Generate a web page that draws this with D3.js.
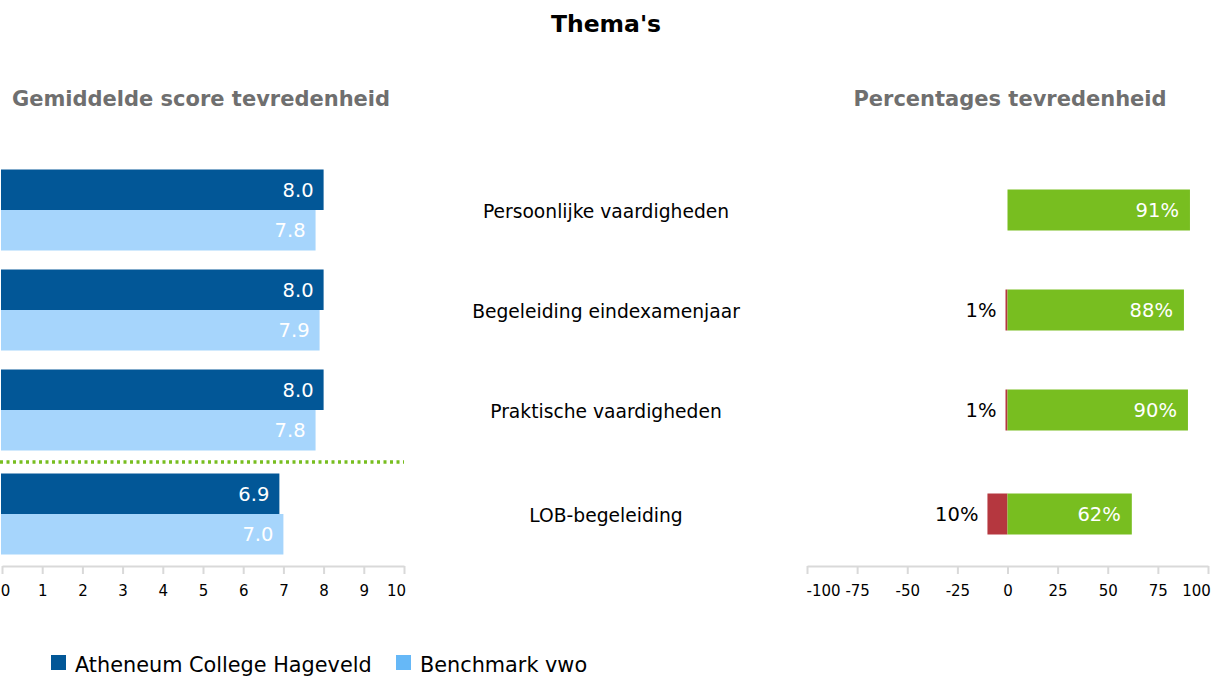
<!DOCTYPE html>
<html><head><meta charset="utf-8">
<script src="https://cdn.jsdelivr.net/npm/d3@7"></script>
<style>body{margin:0;background:#fff}svg{display:block;font-family:"DejaVu Sans",Verdana,sans-serif}</style>
</head><body><svg id="c" width="1218" height="676"></svg>
<script>
const categories = ["Persoonlijke vaardigheden","Begeleiding eindexamenjaar","Praktische vaardigheden","LOB-begeleiding"];
const schoolScores = [8.0, 8.0, 8.0, 6.9];
const benchmarkScores = [7.8, 7.9, 7.8, 7.0];
const pctNegative = [0, 1, 1, 10];
const pctPositive = [91, 88, 90, 62];
const scoreTicks = [0,1,2,3,4,5,6,7,8,9,10];
const pctTicks = [-100,-75,-50,-25,0,25,50,75,100];
const seriesNames = ["Atheneum College Hageveld","Benchmark vwo"];

const svg = d3.select("#c");

svg.append("text").attr("x",606).attr("y",32).attr("text-anchor","middle")
  .attr("font-weight","bold").attr("font-size",23.5).attr("fill","#000").text("Thema's");
svg.append("text").attr("x",201).attr("y",106).attr("text-anchor","middle")
  .attr("font-weight","bold").attr("font-size",21).attr("fill","#6f6f6f").text("Gemiddelde score tevredenheid");
svg.append("text").attr("x",1010).attr("y",106).attr("text-anchor","middle")
  .attr("font-weight","bold").attr("font-size",21).attr("fill","#6f6f6f").text("Percentages tevredenheid");

const yPos = d3.scalePoint().domain(categories).range([210,510]);
const center = (c,i) => yPos(c) + (i===3 ? 4 : 0);

// left chart
const xL = d3.scaleLinear().domain([0,10]).range([2,404]);
const gL = svg.append("g");
const barH = 40.5;
const lblF = 19.5;
gL.selectAll("rect.s").data(schoolScores).join("rect").attr("class","s")
  .attr("x",xL(0)-1).attr("y",(d,i)=>center(categories[i],i)-barH)
  .attr("width",d=>xL(d)-xL(0)+1).attr("height",barH).attr("fill","#025797");
gL.selectAll("rect.b").data(benchmarkScores).join("rect").attr("class","b")
  .attr("x",xL(0)-1).attr("y",(d,i)=>center(categories[i],i))
  .attr("width",d=>xL(d)-xL(0)+1).attr("height",barH).attr("fill","#a6d5fc");
gL.selectAll("text.s").data(schoolScores).join("text").attr("class","s")
  .attr("x",d=>xL(d)-10).attr("y",(d,i)=>center(categories[i],i)-barH/2+7)
  .attr("text-anchor","end").attr("font-size",lblF).attr("fill","#fff").text(d=>d.toFixed(1));
gL.selectAll("text.b").data(benchmarkScores).join("text").attr("class","b")
  .attr("x",d=>xL(d)-10).attr("y",(d,i)=>center(categories[i],i)+barH/2+7)
  .attr("text-anchor","end").attr("font-size",lblF).attr("fill","#fff").text(d=>d.toFixed(1));
// dotted separator
gL.append("line").attr("x1",0).attr("x2",xL(10)).attr("y1",462).attr("y2",462)
  .attr("stroke","#78be20").attr("stroke-width",3.5).attr("stroke-dasharray","3,3.5");

function styleAxis(ax){
  ax.select(".domain").attr("stroke","#d9d9d9").attr("stroke-width",2);
  ax.selectAll(".tick line").attr("stroke","#d9d9d9").attr("stroke-width",2);
  ax.selectAll(".tick text").attr("font-size",15).attr("fill","#000").attr("dy","1.25em")
    .attr("font-family","DejaVu Sans, sans-serif");
}
const axL = gL.append("g").attr("transform","translate(0,566)")
  .call(d3.axisBottom(xL).tickValues(scoreTicks).tickSize(8).tickSizeOuter(0).tickFormat(d=>String(d)));
styleAxis(axL);
axL.selectAll(".tick text").filter(d=>d===0).attr("dx",3);
axL.selectAll(".tick text").filter(d=>d===10).attr("dx",-8);

// middle labels
svg.selectAll("text.cat").data(categories).join("text").attr("class","cat")
  .attr("x",606).attr("y",(c,i)=>center(c,i)+8)
  .attr("text-anchor","middle").attr("font-size",18.7).attr("fill","#000").text(d=>d);

// right chart
const xR = d3.scaleLinear().domain([-100,100]).range([807,1208]);
const gR = svg.append("g");
const rH = 41;
gR.selectAll("rect.n").data(pctNegative).join("rect").attr("class","n")
  .attr("x",d=>xR(-d)).attr("y",(d,i)=>center(categories[i],i)-rH/2)
  .attr("width",d=>xR(0)-xR(-d)).attr("height",rH).attr("fill","#b5373f");
gR.selectAll("rect.p").data(pctPositive).join("rect").attr("class","p")
  .attr("x",xR(0)).attr("y",(d,i)=>center(categories[i],i)-rH/2)
  .attr("width",d=>xR(d)-xR(0)).attr("height",rH).attr("fill","#78be20");
gR.selectAll("text.p").data(pctPositive).join("text").attr("class","p")
  .attr("x",d=>xR(d)-11).attr("y",(d,i)=>center(categories[i],i)+7)
  .attr("text-anchor","end").attr("font-size",lblF).attr("fill","#fff").text(d=>d+"%");
pctNegative.forEach((d,i)=>{ if(d>0){
  gR.append("text").attr("x",xR(-d)-9).attr("y",center(categories[i],i)+7)
    .attr("text-anchor","end").attr("font-size",lblF).attr("fill","#000").text(d+"%");
}});

const axR = gR.append("g").attr("transform","translate(0,566)")
  .call(d3.axisBottom(xR).tickValues(pctTicks).tickSize(8).tickSizeOuter(0).tickFormat(d=>String(d)));
styleAxis(axR);
axR.selectAll(".tick text").filter(d=>d===-100).attr("dx",16);
axR.selectAll(".tick text").filter(d=>d===100).attr("dx",-12);

// legend
const legColors = ["#025797","#66b8f7"];
const legX = [51, 396];
const lg = svg.append("g");
seriesNames.forEach((n,i)=>{
  lg.append("rect").attr("x",legX[i]).attr("y",655).attr("width",15).attr("height",15).attr("fill",legColors[i]);
  lg.append("text").attr("x",legX[i]+24).attr("y",672).attr("font-size",20.8).attr("fill","#000").text(n);
});
</script></body></html>
